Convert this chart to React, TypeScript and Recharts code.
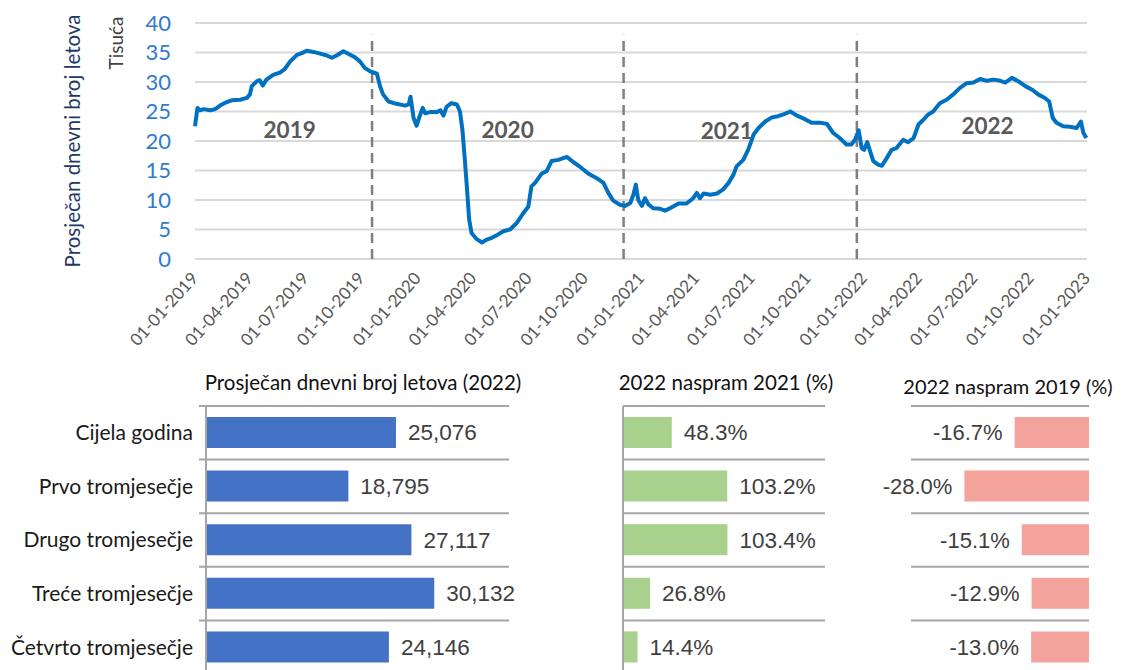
import React from "react";
import {
  LineChart,
  Line,
  XAxis,
  YAxis,
  CartesianGrid,
  ReferenceLine,
  ReferenceDot,
  BarChart,
  Bar,
  LabelList,
} from "recharts";

const calibri = "Lato, 'Open Sans', sans-serif";
const arial = "'Liberation Sans', Arial, sans-serif";

// average daily flights (thousands)
const flights2019: [string, number][] = [
  ["2019-01-01", 22.5], ["2019-01-05", 25.6], ["2019-01-09", 25.2], ["2019-01-15", 25.4],
  ["2019-01-26", 25.2], ["2019-02-03", 25.4], ["2019-02-11", 26.0], ["2019-02-22", 26.6],
  ["2019-03-02", 26.9], ["2019-03-16", 27.0], ["2019-03-27", 27.3], ["2019-04-01", 27.9],
  ["2019-04-04", 29.3], ["2019-04-12", 30.1], ["2019-04-17", 30.3], ["2019-04-22", 29.4],
  ["2019-04-28", 30.4], ["2019-05-09", 31.2], ["2019-05-20", 31.6], ["2019-05-28", 32.2],
  ["2019-06-06", 33.5], ["2019-06-17", 34.6], ["2019-06-25", 34.9], ["2019-07-03", 35.3],
  ["2019-07-14", 35.1], ["2019-07-25", 34.8], ["2019-08-05", 34.5], ["2019-08-13", 34.1],
  ["2019-08-21", 34.5], ["2019-09-01", 35.2], ["2019-09-09", 34.8], ["2019-09-20", 34.2],
  ["2019-09-28", 33.5], ["2019-10-06", 32.4], ["2019-10-15", 31.8], ["2019-10-26", 31.4],
  ["2019-10-31", 29.3], ["2019-11-05", 27.9], ["2019-11-14", 26.7], ["2019-11-27", 26.3],
  ["2019-12-11", 26.0], ["2019-12-17", 26.2], ["2019-12-20", 27.5], ["2019-12-25", 23.9],
  ["2019-12-30", 22.6],
];
const flights2020: [string, number][] = [
  ["2020-01-04", 24.2], ["2020-01-09", 25.6], ["2020-01-13", 24.7], ["2020-01-21", 24.9],
  ["2020-02-01", 24.9], ["2020-02-07", 25.2], ["2020-02-12", 24.3], ["2020-02-17", 25.8],
  ["2020-02-25", 26.4], ["2020-03-05", 26.2], ["2020-03-10", 25.0], ["2020-03-14", 21.9],
  ["2020-03-18", 16.8], ["2020-03-22", 11.2], ["2020-03-25", 6.7], ["2020-03-29", 4.4],
  ["2020-04-06", 3.4], ["2020-04-15", 2.8], ["2020-04-23", 3.3], ["2020-05-01", 3.6],
  ["2020-05-09", 4.0], ["2020-05-20", 4.7], ["2020-05-31", 5.0], ["2020-06-11", 6.1],
  ["2020-06-22", 7.8], ["2020-06-30", 8.9], ["2020-07-05", 12.3], ["2020-07-11", 12.9],
  ["2020-07-22", 14.5], ["2020-07-30", 14.9], ["2020-08-07", 16.6], ["2020-08-18", 16.8],
  ["2020-09-01", 17.3], ["2020-09-12", 16.4], ["2020-09-23", 15.6], ["2020-10-06", 14.5],
  ["2020-10-20", 13.7], ["2020-10-31", 12.9], ["2020-11-08", 11.2], ["2020-11-16", 9.9],
  ["2020-11-27", 9.2], ["2020-12-05", 9.0], ["2020-12-14", 9.5], ["2020-12-19", 10.9],
  ["2020-12-23", 12.6], ["2020-12-27", 10.0],
];
const flights2021: [string, number][] = [
  ["2021-01-02", 9.0], ["2021-01-07", 10.3], ["2021-01-13", 9.2], ["2021-01-21", 8.6],
  ["2021-02-01", 8.5], ["2021-02-09", 8.2], ["2021-02-17", 8.6], ["2021-03-03", 9.4],
  ["2021-03-16", 9.4], ["2021-03-27", 10.3], ["2021-04-02", 11.2], ["2021-04-07", 10.3],
  ["2021-04-13", 11.1], ["2021-04-24", 10.9], ["2021-05-05", 11.1], ["2021-05-15", 11.8],
  ["2021-05-24", 12.9], ["2021-06-01", 14.3], ["2021-06-06", 15.7], ["2021-06-17", 16.8],
  ["2021-06-25", 18.5], ["2021-07-04", 21.1], ["2021-07-12", 22.2], ["2021-07-23", 23.3],
  ["2021-08-03", 24.0], ["2021-08-13", 24.2], ["2021-08-24", 24.6], ["2021-09-02", 25.0],
  ["2021-09-13", 24.3], ["2021-09-26", 23.7], ["2021-10-07", 23.1], ["2021-10-21", 23.1],
  ["2021-11-01", 22.9], ["2021-11-11", 21.4], ["2021-11-22", 20.5], ["2021-12-03", 19.4],
  ["2021-12-11", 19.4], ["2021-12-17", 20.2], ["2021-12-23", 21.8], ["2021-12-28", 18.8],
];
const flights2022: [string, number][] = [
  ["2022-01-01", 18.5], ["2022-01-06", 19.8], ["2022-01-11", 18.2], ["2022-01-16", 16.6],
  ["2022-01-24", 16.0], ["2022-01-30", 15.8], ["2022-02-07", 17.1], ["2022-02-15", 18.5],
  ["2022-02-23", 18.8], ["2022-03-06", 20.2], ["2022-03-14", 19.8], ["2022-03-23", 20.5],
  ["2022-03-31", 22.8], ["2022-04-08", 23.6], ["2022-04-16", 24.5], ["2022-04-24", 25.0],
  ["2022-05-05", 26.4], ["2022-05-16", 27.0], ["2022-05-27", 27.9], ["2022-06-07", 29.0],
  ["2022-06-18", 29.8], ["2022-06-29", 29.9], ["2022-07-10", 30.5], ["2022-07-21", 30.2],
  ["2022-08-01", 30.4], ["2022-08-12", 30.2], ["2022-08-20", 29.9], ["2022-08-31", 30.7],
  ["2022-09-11", 30.1], ["2022-09-22", 29.3], ["2022-10-03", 28.7], ["2022-10-13", 27.9],
  ["2022-10-24", 27.3], ["2022-10-31", 26.7], ["2022-11-06", 23.9], ["2022-11-12", 23.1],
  ["2022-11-23", 22.5], ["2022-12-04", 22.4], ["2022-12-15", 22.2], ["2022-12-22", 23.3],
  ["2022-12-26", 21.4], ["2022-12-31", 20.5],
];

const quarterTicks = [
  "2019-01-01", "2019-04-01", "2019-07-01", "2019-10-01",
  "2020-01-01", "2020-04-01", "2020-07-01", "2020-10-01",
  "2021-01-01", "2021-04-01", "2021-07-01", "2021-10-01",
  "2022-01-01", "2022-04-01", "2022-07-01", "2022-10-01",
  "2023-01-01",
];
const yTicks = [0, 5, 10, 15, 20, 25, 30, 35, 40];

// dashed separators and year captions (data coordinates)
const dividerDates = ["2019-10-18", "2020-12-03", "2021-12-20"];
const yearNames = ["2019", "2020", "2021", "2022"];
const yearLabelDates = ["2019-06-05", "2020-05-27", "2021-05-21", "2022-07-22"];
const yearLabelLevels = [21.9, 21.9, 21.7, 22.5];

const quarterNames = [
  "Cijela godina",
  "Prvo tromjesečje",
  "Drugo tromjesečje",
  "Treće tromjesečje",
  "Četvrto tromjesečje",
];
const avgFlights2022 = [25076, 18795, 27117, 30132, 24146];
const change2022vs2021 = [48.3, 103.2, 103.4, 26.8, 14.4];
const change2022vs2019 = [-16.7, -28.0, -15.1, -12.9, -13.0];

const lineData = [...flights2019, ...flights2020, ...flights2021, ...flights2022].map(
  ([d, v]) => ({ t: Date.parse(d), v })
);
const tickTimes = quarterTicks.map((d) => Date.parse(d));

const barRows = quarterNames.map((name, i) => ({
  name,
  avg: avgFlights2022[i],
  vs21: change2022vs2021[i],
  vs19: change2022vs2019[i],
}));

const pad = (n: number) => String(n).padStart(2, "0");
const fmtDate = (t: number) => {
  const d = new Date(t);
  return `${pad(d.getUTCDate())}-${pad(d.getUTCMonth() + 1)}-${d.getUTCFullYear()}`;
};

function DateTick(props: any) {
  const { x, y, payload } = props;
  const ax = x + 4;
  const ay = y + 20;
  return (
    <text
      x={ax}
      y={ay}
      textAnchor="end"
      transform={`rotate(-48 ${ax} ${ay})`}
      fill="#595959"
      fontSize={17}
      fontFamily={calibri}
    >
      {fmtDate(payload.value)}
    </text>
  );
}

const GRID = "#A6A6A6";

// separators sit between the category rows
const rowEdges = (p: any) => {
  const o = p.offset;
  return quarterNames.map((_, i) => o.top + (i * o.height) / quarterNames.length);
};
const sepLine = (ext: number) => (p: any) => (
  <line
    key={`sep-${p.index}-${p.y1}`}
    x1={p.x1 - ext}
    y1={p.y1}
    x2={p.x2}
    y2={p.y2}
    stroke={GRID}
    strokeWidth={2}
  />
);

const LeftPctLabel = (props: any) => {
  const { x, y, width, height, value } = props;
  const left = Math.min(Number(x), Number(x) + Number(width));
  return (
    <text
      x={left - 12}
      y={Number(y) + Number(height) / 2}
      dy="0.36em"
      textAnchor="end"
      fill="#404040"
      fontSize={22}
      fontFamily={arial}
    >
      {Number(value).toFixed(1)}%
    </text>
  );
};

const titleStyle = (cx: number, cy: number, size = 20.5): React.CSSProperties => ({
  position: "absolute",
  left: cx - 8,
  top: cy - 8,
  transform: "translate(-50%, -50%)",
  whiteSpace: "nowrap",
  fontSize: size,
  color: "#111",
  fontFamily: calibri,
});

export default function App() {
  return (
    <div
      style={{
        position: "relative",
        width: 1114,
        height: 662,
        overflow: "hidden",
        fontFamily: calibri,
      }}
    >
      <div
        style={{
          position: "absolute",
          left: 72 - 8,
          top: 141 - 8,
          transform: "translate(-50%, -50%) rotate(-90deg)",
          whiteSpace: "nowrap",
          fontSize: 20.5,
          color: "#1F3864",
        }}
      >
        Prosječan dnevni broj letova
      </div>
      <div
        style={{
          position: "absolute",
          left: 115 - 8,
          top: 43 - 8,
          transform: "translate(-50%, -50%) rotate(-90deg)",
          whiteSpace: "nowrap",
          fontSize: 19,
          color: "#404040",
        }}
      >
        Tisuća
      </div>

      <div style={{ position: "absolute", left: 0, top: 0 }}>
        <LineChart
          width={1100}
          height={350}
          data={lineData}
          margin={{ top: 15, right: 21, bottom: 0, left: 0 }}
        >
          <CartesianGrid vertical={false} stroke="#D9D9D9" strokeWidth={2} />
          <XAxis
            dataKey="t"
            type="number"
            domain={[tickTimes[0], tickTimes[tickTimes.length - 1]]}
            ticks={tickTimes}
            interval={0}
            height={99}
            axisLine={false}
            tickLine={false}
            tickSize={0}
            tickMargin={0}
            tick={<DateTick />}
          />
          <YAxis
            domain={[0, 40]}
            ticks={yTicks}
            interval={0}
            width={187}
            axisLine={false}
            tickLine={false}
            tickSize={0}
            tickMargin={24}
            tick={{ fill: "#2E7BCF", fontSize: 22, fontFamily: calibri }}
          />
          {dividerDates.map((d) => (
            <ReferenceLine
              key={d}
              segment={[
                { x: Date.parse(d), y: 0 },
                { x: Date.parse(d), y: 38 },
              ]}
              stroke="#7F7F7F"
              strokeWidth={2.5}
              strokeDasharray="10 6"
            />
          ))}
          {yearNames.map((yr, i) => (
            <ReferenceDot
              key={yr}
              x={Date.parse(yearLabelDates[i])}
              y={yearLabelLevels[i]}
              r={0}
              fill="none"
              stroke="none"
              label={{
                value: yr,
                position: "center",
                fill: "#595959",
                fontSize: 22.5,
                fontWeight: 700,
                fontFamily: calibri,
              }}
            />
          ))}
          <Line
            dataKey="v"
            type="linear"
            stroke="#0070C0"
            strokeWidth={4}
            dot={false}
            strokeLinejoin="round"
            isAnimationActive={false}
          />
        </LineChart>
      </div>

      <div style={titleStyle(363, 382)}>Prosječan dnevni broj letova (2022)</div>
      <div style={titleStyle(726, 382)}>2022 naspram 2021 (%)</div>
      <div style={titleStyle(1008, 386, 20)}>2022 naspram 2019 (%)</div>

      <div style={{ position: "absolute", left: 0, top: 392 }}>
        <BarChart
          width={532}
          height={274}
          layout="vertical"
          data={barRows}
          margin={{ top: 6, right: 31, bottom: 0, left: 0 }}
          barSize={31}
        >
          <CartesianGrid
            vertical={false}
            horizontalCoordinatesGenerator={rowEdges}
            horizontal={sepLine(7)}
          />
          <XAxis type="number" domain={[0, 40000]} hide />
          <YAxis
            type="category"
            dataKey="name"
            width={198}
            tickLine={false}
            tickSize={0}
            tickMargin={13}
            axisLine={{ stroke: GRID, strokeWidth: 2 }}
            tick={{ fill: "#1A1A1A", fontSize: 21, fontFamily: calibri }}
          />
          <Bar dataKey="avg" fill="#4472C4" isAnimationActive={false}>
            <LabelList
              dataKey="avg"
              position="right"
              offset={12}
              formatter={(v: any) => Number(v).toLocaleString("en-US")}
              fill="#404040"
              fontSize={22.5}
              fontFamily={arial}
            />
          </Bar>
        </BarChart>
      </div>

      <div style={{ position: "absolute", left: 592, top: 392 }}>
        <BarChart
          width={300}
          height={274}
          layout="vertical"
          data={barRows}
          margin={{ top: 6, right: 75, bottom: 0, left: 0 }}
          barSize={31}
        >
          <CartesianGrid
            vertical={false}
            horizontalCoordinatesGenerator={rowEdges}
            horizontal={sepLine(0)}
          />
          <XAxis type="number" domain={[0, 200]} hide />
          <YAxis
            type="category"
            dataKey="name"
            width={23}
            tick={false}
            tickLine={false}
            axisLine={{ stroke: GRID, strokeWidth: 2 }}
          />
          <Bar dataKey="vs21" fill="#A9D18E" isAnimationActive={false}>
            <LabelList
              dataKey="vs21"
              position="right"
              offset={12}
              formatter={(v: any) => `${Number(v).toFixed(1)}%`}
              fill="#404040"
              fontSize={22.5}
              fontFamily={arial}
            />
          </Bar>
        </BarChart>
      </div>

      <div style={{ position: "absolute", left: 852, top: 392 }}>
        <BarChart
          width={250}
          height={274}
          layout="vertical"
          data={barRows}
          margin={{ top: 6, right: 21, bottom: 0, left: 51 }}
          barSize={31}
        >
          <CartesianGrid
            vertical={false}
            horizontalCoordinatesGenerator={rowEdges}
            horizontal={sepLine(0)}
          />
          <XAxis type="number" domain={[-40, 0]} hide />
          <YAxis type="category" dataKey="name" hide />
          <Bar dataKey="vs19" fill="#F4A29C" isAnimationActive={false}>
            <LabelList dataKey="vs19" content={<LeftPctLabel />} />
          </Bar>
        </BarChart>
      </div>
    </div>
  );
}
